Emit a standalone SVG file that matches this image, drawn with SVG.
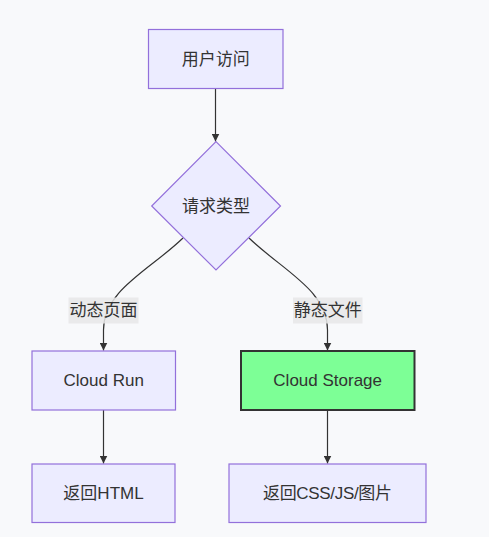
<svg xmlns="http://www.w3.org/2000/svg" width="489" height="537" viewBox="0 0 489 537">
<style>
.node rect,.node polygon{fill:#ECECFF;stroke:#9370DB;stroke-width:1.2px}
.node.green rect{fill:#7dff96;stroke:#333;stroke-width:2px}
text{font-family:"Liberation Sans","Noto Sans CJK SC",sans-serif;font-size:17px;fill:#333;text-anchor:middle;dominant-baseline:central}
.edge{fill:none;stroke:#333;stroke-width:1.2px;marker-end:url(#arr)}
.lbl rect{fill:#e8e8e8;opacity:0.85}
</style>
<defs>
<marker id="arr" viewBox="0 0 10 10" refX="10" refY="5" markerWidth="8" markerHeight="8" markerUnits="userSpaceOnUse" orient="auto">
<path d="M0,0 L10,5 L0,10 z" fill="#333"/>
</marker>
</defs>
<rect width="489" height="537" fill="#f8f9fb"/>
<g id="edges">
<path class="edge" d="M215.5,88.5 L215.5,141.5"/>
<path class="edge" d="M183,238 C150,270 103.5,290 103.5,330 L103.5,350.5"/>
<path class="edge" d="M249,238 C282,270 327.5,290 327.5,330 L327.5,350.5"/>
<path class="edge" d="M103.5,410 L103.5,463.5"/>
<path class="edge" d="M327.5,410 L327.5,463.5"/>
<g class="lbl" id="label-dynamic"><rect x="68.5" y="297.5" width="70" height="26"/><text x="103.5" y="310.5">动态页面</text></g>
<g class="lbl" id="label-static"><rect x="293" y="297.5" width="69.5" height="26"/><text x="327.7" y="310.5">静态文件</text></g>
</g>
<g class="node" id="user"><rect x="148.5" y="29.5" width="134.5" height="59"/><text x="215.7" y="59">用户访问</text></g>
<g class="node" id="reqtype"><polygon points="216,141.7 280.5,206 216,270 151.7,206"/><text x="216" y="206">请求类型</text></g>
<g class="node" id="cloudrun"><rect x="32" y="351" width="143.5" height="59"/><text x="103.7" y="380.5">Cloud Run</text></g>
<g class="node green" id="cloudstorage"><rect x="241" y="351" width="173.5" height="59"/><text x="327.7" y="380.5">Cloud Storage</text></g>
<g class="node" id="html"><rect x="32" y="464" width="143" height="58.5"/><text x="103.5" y="493.5">返回HTML</text></g>
<g class="node" id="assets"><rect x="229" y="464" width="197" height="58.5"/><text x="327.5" y="493.5" textLength="129" lengthAdjust="spacing">返回CSS/JS/图片</text></g>
</svg>
